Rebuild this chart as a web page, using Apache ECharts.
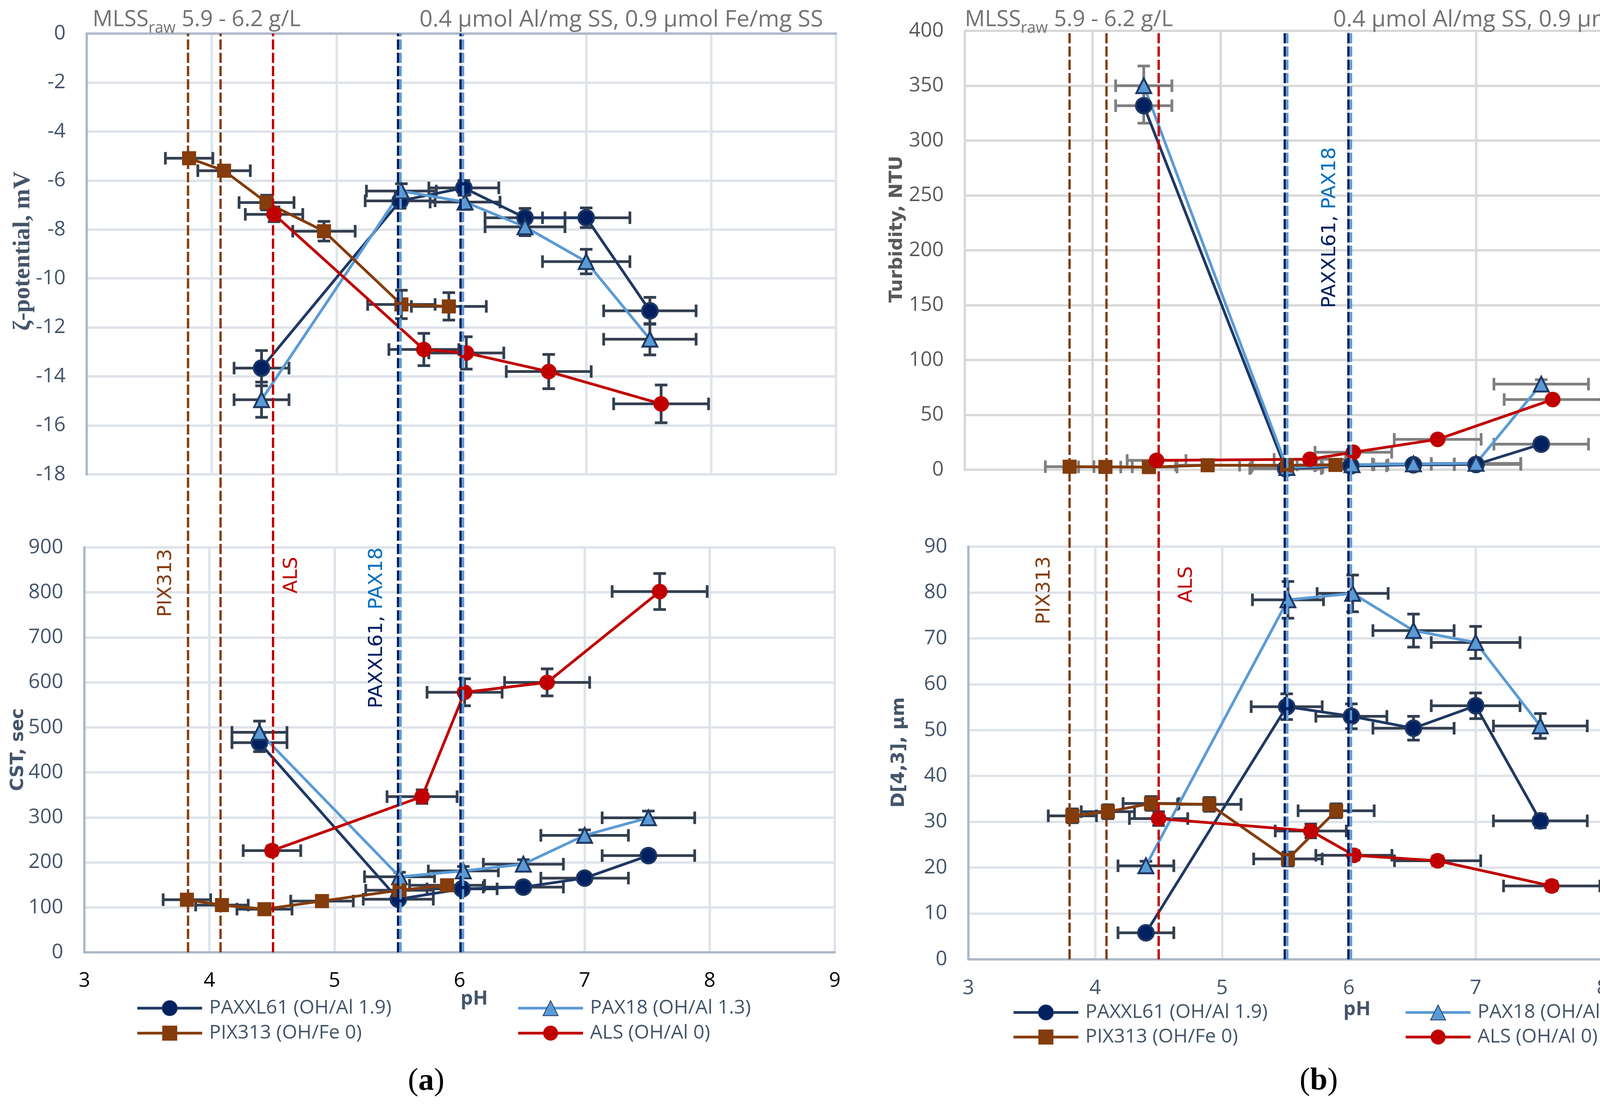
<!DOCTYPE html>
<html><head><meta charset="utf-8">
<script src="https://cdn.jsdelivr.net/npm/echarts@6/dist/echarts.min.js"></script>
<style>html,body{margin:0;padding:0;background:#fff}#c{width:4466px;height:2830px}</style>
</head><body><div id="c"></div>
<script>
// ---------- DATA ----------
const seriesNames = ['PAXXL61 (OH/Al 1.9)', 'PAX18 (OH/Al 1.3)', 'PIX313 (OH/Fe 0)', 'ALS (OH/Al 0)'];
const xTicks = [3, 4, 5, 6, 7, 8, 9];

// pH values (x) and their SD (horizontal error bars)
const phPAXXL61 = [4.40, 5.51, 6.02, 6.51, 7.00, 7.51];
const phPAX18   = [4.40, 5.52, 6.03, 6.51, 7.00, 7.51];
const phPIX313  = [3.82, 4.10, 4.44, 4.90, 5.52, 5.90];
const phALS     = [4.50, 5.70, 6.04, 6.70, 7.60];
const phErrPAXXL61 = [0.22, 0.28, 0.28, 0.32, 0.35, 0.37];
const phErrPAX18   = [0.22, 0.28, 0.28, 0.32, 0.35, 0.37];
const phErrPIX313  = [0.19, 0.21, 0.22, 0.25, 0.27, 0.30];
const phErrALS     = [0.23, 0.28, 0.30, 0.34, 0.38];

// zeta potential, mV
const zetaPAXXL61 = [-13.66, -6.83, -6.30, -7.52, -7.52, -11.32];
const zetaPAX18   = [-14.95, -6.43, -6.88, -7.89, -9.31, -12.48];
const zetaPIX313  = [-5.09, -5.60, -6.90, -8.07, -11.06, -11.14];
const zetaALS     = [-7.38, -12.90, -13.04, -13.80, -15.12];
const zetaErrPAXXL61 = [0.72, 0.30, 0.30, 0.38, 0.40, 0.55];
const zetaErrPAX18   = [0.72, 0.30, 0.30, 0.36, 0.50, 0.64];
const zetaErrPIX313  = [0.20, 0.20, 0.30, 0.40, 0.58, 0.56];
const zetaErrALS     = [0.30, 0.66, 0.66, 0.70, 0.77];

// CST, sec
const cstPAXXL61 = [466, 118, 141, 145, 165, 215];
const cstPAX18   = [489, 168, 181, 196, 260, 299];
const cstPIX313  = [117, 105, 96, 114, 138, 149];
const cstALS     = [226, 346, 578, 600, 802];
const cstErrPAXXL61 = [20, 10, 10, 10, 10, 12];
const cstErrPAX18   = [25, 10, 10, 10, 12, 15];
const cstErrPIX313  = [10, 8, 8, 8, 10, 10];
const cstErrALS     = [10, 15, 30, 30, 40];

// Turbidity, NTU
const turbPAXXL61 = [331.8, 1.0, 3.5, 4.5, 4.8, 23.3];
const turbPAX18   = [350, 2.0, 4.5, 5.3, 5.8, 78];
const turbPIX313  = [2.8, 2.6, 2.4, 4.1, 4.0, 4.4];
const turbALS     = [8.5, 9.5, 15.9, 27.7, 64];
const turbErrPAXXL61 = [16, 1, 1, 1, 1, 3];
const turbErrPAX18   = [18, 1, 1, 1, 1, 4];
const turbErrPIX313  = [1, 1, 1, 1, 1, 1];
const turbErrALS     = [2, 2, 2, 2, 3];

// D[4,3], µm
const dPAXXL61 = [5.8, 55.1, 53.0, 50.4, 55.3, 30.2];
const dPAX18   = [20.4, 78.4, 79.8, 71.7, 69.1, 50.9];
const dPIX313  = [31.3, 32.2, 34.0, 33.8, 21.9, 32.4];
const dALS     = [30.7, 28.0, 22.7, 21.5, 16.0];
const dErrPAXXL61 = [0.8, 2.8, 2.7, 2.6, 2.8, 1.5];
const dErrPAX18   = [1.0, 4.0, 4.0, 3.6, 3.5, 2.7];
const dErrPIX313  = [1.5, 1.5, 1.5, 1.5, 1.5, 1.5];
const dErrALS     = [1.5, 1.5, 1.0, 1.0, 1.0];

// optimal pH markers (vertical dashed lines); kind: 0 PIX313, 1 ALS, 2 PAXXL61, 3 PAX18
const vlinePhA   = [3.82, 4.08, 4.50, 5.50, 5.52, 6.00, 6.02];
const vlinePhB   = [3.81, 4.10, 4.51, 5.50, 5.52, 6.00, 6.02];
const vlineKinds = [0, 0, 1, 2, 3, 2, 3];

// ---------- STYLES ----------
const vlineColors = ['#843c0c', '#c00000', '#002060', '#5b9bd5'];
const seriesStyles = [
  {color:'#1f3864', symbol:'circle', symbolSize:40, lineStyle:{width:7, color:'#1f3864'}, itemStyle:{color:'#002060', borderColor:'#1f3864', borderWidth:5}},
  {color:'#5b9bd5', symbol:'triangle', symbolSize:38, lineStyle:{width:7, color:'#5b9bd5'}, itemStyle:{color:'#5b9bd5', borderColor:'#1f3864', borderWidth:5}},
  {color:'#843c0c', symbol:'rect', symbolSize:36, lineStyle:{width:7, color:'#843c0c'}, itemStyle:{color:'#843c0c'}},
  {color:'#c00000', symbol:'circle', symbolSize:40, lineStyle:{width:7, color:'#c00000'}, itemStyle:{color:'#c00000'}}
];
const phs = [phPAXXL61, phPAX18, phPIX313, phALS];
const phErrs = [phErrPAXXL61, phErrPAX18, phErrPIX313, phErrALS];

function errRender(color) {
  return function (params, api) {
    const x = api.value(0), y = api.value(1), ex = api.value(2), ey = api.value(3);
    const L = api.coord([x - ex, y]), R = api.coord([x + ex, y]);
    const T = api.coord([x, y + ey]), B = api.coord([x, y - ey]);
    const c = 16, st = {stroke: color, lineWidth: 7};
    return {type:'group', children:[
      {type:'line', shape:{x1:L[0], y1:L[1], x2:R[0], y2:R[1]}, style:st},
      {type:'line', shape:{x1:L[0], y1:L[1]-c, x2:L[0], y2:L[1]+c}, style:st},
      {type:'line', shape:{x1:R[0], y1:R[1]-c, x2:R[0], y2:R[1]+c}, style:st},
      {type:'line', shape:{x1:T[0], y1:T[1], x2:B[0], y2:B[1]}, style:st},
      {type:'line', shape:{x1:T[0]-c, y1:T[1], x2:T[0]+c, y2:T[1]}, style:st},
      {type:'line', shape:{x1:B[0]-c, y1:B[1], x2:B[0]+c, y2:B[1]}, style:st}
    ]};
  };
}
function vlineRender(params, api) {
  const x = api.value(0), k = api.value(1);
  const p0 = api.coord([x, 0]), p1 = api.coord([x, 1]);
  return {type:'line', shape:{x1:p0[0], y1:p0[1], x2:p1[0], y2:p1[1]},
    style:{stroke: vlineColors[k], lineWidth:6, lineDash:[26, 8]}};
}

const series = [];
function addPlot(idx, vals, errs, errColor) {
  for (let i = 0; i < 4; i++) {
    series.push({type:'custom', xAxisIndex:idx, yAxisIndex:idx, z:1, silent:true,
      renderItem: errRender(errColor),
      data: phs[i].map((x, j) => [x, vals[i][j], phErrs[i][j], errs[i][j]])});
  }
  for (let i = 0; i < 4; i++) {
    series.push(Object.assign({type:'line', name:seriesNames[i], xAxisIndex:idx, yAxisIndex:idx, z:3,
      showSymbol:true, showAllSymbol:true, silent:true,
      data: phs[i].map((x, j) => [x, vals[i][j]])}, seriesStyles[i]));
  }
}
addPlot(0, [zetaPAXXL61, zetaPAX18, zetaPIX313, zetaALS], [zetaErrPAXXL61, zetaErrPAX18, zetaErrPIX313, zetaErrALS], '#333f50');
addPlot(1, [cstPAXXL61, cstPAX18, cstPIX313, cstALS], [cstErrPAXXL61, cstErrPAX18, cstErrPIX313, cstErrALS], '#333f50');
addPlot(2, [turbPAXXL61, turbPAX18, turbPIX313, turbALS], [turbErrPAXXL61, turbErrPAX18, turbErrPIX313, turbErrALS], '#7f7f7f');
addPlot(3, [dPAXXL61, dPAX18, dPIX313, dALS], [dErrPAXXL61, dErrPAX18, dErrPIX313, dErrALS], '#333f50');
series.push({type:'custom', xAxisIndex:4, yAxisIndex:4, z:10, silent:true, renderItem:vlineRender,
  data: vlinePhA.map((x, i) => [x, vlineKinds[i]])});
series.push({type:'custom', xAxisIndex:5, yAxisIndex:5, z:10, silent:true, renderItem:vlineRender,
  data: vlinePhB.map((x, i) => [x, vlineKinds[i]])});

const FONT = 'Open Sans';
function xAx(grid, o) {
  return Object.assign({type:'value', gridIndex:grid, min:xTicks[0], max:xTicks[xTicks.length-1], interval:1,
    axisTick:{show:false}}, o);
}
function yAx(grid, min, max, interval, o) {
  return Object.assign({type:'value', gridIndex:grid, min:min, max:max, interval:interval,
    axisTick:{show:false}}, o);
}
const blueAxis = {show:true, onZero:false, lineStyle:{color:'#adb9ca', width:6}};
const blueSplit = {show:true, lineStyle:{color:'#dee3ea', width:6}};
const grayAxis = {show:true, onZero:false, lineStyle:{color:'#d9d9d9', width:6}};
const graySplit = {show:true, lineStyle:{color:'#d9d9d9', width:6}};
const yLbl = (c) => ({fontSize:52, color:c, fontFamily:FONT, margin:54});

const legendBase = {orient:'horizontal', padding:0, itemWidth:166, itemHeight:48, selectedMode:false,
  lineStyle:{width:7},
  textStyle:{fontSize:50, color:'#44546a', fontFamily:FONT, padding:[0,0,0,13]}};
function leg(i, left, cy) { return Object.assign({}, legendBase, {data:[seriesNames[i]], left:left, top:cy - 24}); }

function txt(x, y, text, size, color, family, weight, rot, align) {
  return {type:'text', x:x, y:y, rotation: rot || 0, z:20, silent:true,
    style:{text:text, fontSize:size, fill:color, fontFamily:family, fontWeight:weight || 'normal',
      align: align || 'left', verticalAlign:'middle'}};
}
const R90 = Math.PI / 2;
function pairLabel(x, y) {
  return {type:'text', x:x, y:y, rotation:R90, z:20, silent:true,
    style:{text:'{n|PAXXL61, }{b|PAX18}', align:'center', verticalAlign:'middle',
      rich:{n:{fontSize:50, fontFamily:'DejaVu Sans', fill:'#002060'}, b:{fontSize:50, fontFamily:'DejaVu Sans', fill:'#0070c0'}}}};
}
function panelLabel(x, y, ch) {
  return {type:'text', x:x, y:y, z:20, silent:true,
    style:{text:'{n|(}{b|' + ch + '}{n|)}', align:'center', verticalAlign:'middle',
      rich:{n:{fontSize:80, fontFamily:'Liberation Serif', fill:'#000'}, b:{fontSize:80, fontFamily:'Liberation Serif', fontWeight:'bold', fill:'#000'}}}};
}

const option = {
  animation:false,
  backgroundColor:'#ffffff',
  textStyle:{fontFamily:FONT},
  grid:[
    {left:222, top:86, width:1918, height:1129},
    {left:216, top:1402, width:1921, height:1037},
    {left:2470, top:79, width:1963, height:1124},
    {left:2479, top:1400, width:1948, height:1057},
    {left:219, top:86, width:1920, height:2353},
    {left:2474, top:79, width:1956, height:2378}
  ],
  xAxis:[
    xAx(0, {position:'top', axisLine:blueAxis, axisLabel:{show:false}, splitLine:blueSplit}),
    xAx(1, {position:'bottom', axisLine:blueAxis, splitLine:blueSplit,
      axisLabel:{fontSize:52, color:'#000000', fontFamily:FONT, margin:47}}),
    xAx(2, {position:'bottom', axisLine:grayAxis, axisLabel:{show:false}, splitLine:graySplit}),
    xAx(3, {position:'bottom', axisLine:blueAxis, splitLine:blueSplit,
      axisLabel:{fontSize:52, color:'#44546a', fontFamily:FONT, margin:48}}),
    xAx(4, {show:false}),
    xAx(5, {show:false})
  ],
  yAxis:[
    yAx(0, -18, 0, 2, {axisLine:blueAxis, splitLine:blueSplit, axisLabel:yLbl('#44546a')}),
    yAx(1, 0, 900, 100, {axisLine:blueAxis, splitLine:blueSplit, axisLabel:yLbl('#44546a')}),
    yAx(2, 0, 400, 50, {axisLine:grayAxis, splitLine:graySplit, axisLabel:yLbl('#595959')}),
    yAx(3, 0, 90, 10, {axisLine:blueAxis, splitLine:blueSplit, axisLabel:yLbl('#44546a')}),
    yAx(4, 0, 1, 1, {show:false}),
    yAx(5, 0, 1, 1, {show:false})
  ],
  legend:[
    leg(0, 348, 2581), leg(1, 1323, 2581), leg(2, 348, 2645), leg(3, 1323, 2645),
    leg(0, 2591, 2592), leg(1, 3595, 2592), leg(2, 2591, 2655), leg(3, 3595, 2655)
  ],
  graphic:[
    // header texts
    txt(237, 51, 'MLSS', 57, '#767171', FONT),
    txt(380, 73, 'raw', 40, '#767171', FONT),
    txt(465, 51, '5.9 - 6.2 g/L', 57, '#767171', FONT),
    txt(2107, 51, '0.4 µmol Al/mg SS, 0.9 µmol Fe/mg SS', 59, '#767171', FONT, 'normal', 0, 'right'),
    txt(2470, 51, 'MLSS', 57, '#767171', FONT),
    txt(2613, 73, 'raw', 40, '#767171', FONT),
    txt(2698, 51, '5.9 - 6.2 g/L', 57, '#767171', FONT),
    txt(4446, 51, '0.4 µmol Al/mg SS, 0.9 µmol Fe/mg SS', 59, '#767171', FONT, 'normal', 0, 'right'),
    // axis titles
    txt(59, 643, 'ζ-potential, mV', 62, '#44546a', 'Liberation Serif', 'bold', R90, 'center'),
    txt(47, 1920, 'CST, sec', 46, '#44546a', 'DejaVu Sans', 'bold', R90, 'center'),
    txt(2297, 587, 'Turbidity, NTU', 47, '#595959', 'DejaVu Sans', 'bold', R90, 'center'),
    txt(2302, 1927, 'D[4,3], µm', 47, '#44546a', 'DejaVu Sans', 'bold', R90, 'center'),
    txt(1214, 2559, 'pH', 50, '#44546a', FONT, 'bold', 0, 'center'),
    txt(3474, 2586, 'pH', 50, '#44546a', FONT, 'bold', 0, 'center'),
    // rotated annotations
    txt(425, 1493, 'PIX313', 50, '#843c0c', 'DejaVu Sans', 'normal', R90, 'center'),
    txt(747, 1473, 'ALS', 50, '#c00000', 'DejaVu Sans', 'normal', R90, 'center'),
    pairLabel(965, 1608),
    txt(2674, 1512, 'PIX313', 50, '#843c0c', 'DejaVu Sans', 'normal', R90, 'center'),
    txt(3038, 1497, 'ALS', 50, '#c00000', 'DejaVu Sans', 'normal', R90, 'center'),
    pairLabel(3405, 583),
    panelLabel(1091, 2770, 'a'),
    panelLabel(3376, 2769, 'b')
  ],
  series: series
};
const chart = echarts.init(document.getElementById('c'), null, {renderer:'canvas'});
chart.setOption(option);
</script>
</body></html>
